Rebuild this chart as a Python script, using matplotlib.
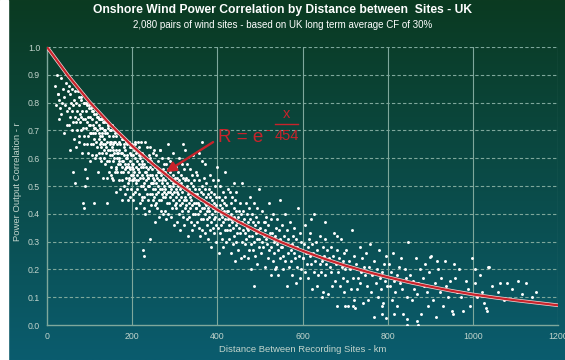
import numpy as np
import matplotlib.pyplot as plt
from matplotlib.lines import Line2D
from matplotlib.patches import Rectangle

plt.rcParams['font.family'] = ['Liberation Sans', 'DejaVu Sans']

# pares de sitios (distancia km, correlacion r)
pts_0_100 = [
    (19, .86), (22, .79), (24, .90), (25, .83),
    (26, .83), (27, .74), (29, .81), (31, .78), (32, .89), (34, .76), (36, .80), (37, .85), (39, .69), (41, .82),
    (43, .79), (44, .87), (46, .77), (48, .72), (49, .84),
    (51, .86), (52, .72), (52, .78), (54, .63), (55, .83), (55, .75), (57, .80), (58, .70), (59, .85), (59, .77),
    (61, .73), (62, .79), (63, .67), (63, .81), (65, .75), (66, .84), (67, .73), (67, .64), (69, .80), (70, .77),
    (71, .70), (72, .84), (72, .74), (74, .82), (75, .66), (62, .55), (66, .51),
    (76, .79), (76, .68), (77, .76), (78, .73), (79, .82), (80, .70), (80, .75), (81, .81), (82, .62), (83, .77),
    (84, .74), (84, .83), (85, .71), (86, .65), (87, .80), (88, .80), (88, .68), (89, .74), (90, .56), (91, .80),
    (92, .71), (92, .77), (93, .65), (94, .79), (95, .73), (96, .68), (96, .75), (97, .62), (98, .79), (99, .72),
    (99, .78), (100, .69), (85, .44), (87, .42), (90, .50), (95, .53),
]
pts_100_200 = [
    (101, .59), (101, .75), (102, .72), (103, .65), (103, .78), (104, .69), (105, .77), (106, .61), (106, .74),
    (107, .65), (108, .72), (108, .69), (109, .77), (110, .67), (111, .71), (111, .76), (112, .60), (113, .71),
    (113, .69), (114, .76), (115, .66), (116, .61), (116, .73), (117, .75), (118, .64), (118, .70), (119, .55),
    (120, .75), (121, .67), (121, .72), (122, .62), (123, .74), (123, .69), (124, .65), (124, .71), (125, .60),
    (125, .74), (125, .68), (110, .44),
    (126, .66), (126, .74), (127, .64), (127, .59), (128, .71), (129, .74), (129, .62), (130, .68), (131, .53),
    (131, .73), (132, .65), (133, .70), (133, .60), (134, .73), (135, .67), (135, .63), (136, .69), (137, .58),
    (137, .70), (138, .64), (139, .73), (139, .62), (140, .53), (141, .69), (141, .66), (142, .59), (143, .72),
    (143, .63), (144, .71), (145, .55), (145, .68), (146, .59), (147, .66), (147, .63), (148, .70), (149, .61),
    (149, .65), (150, .70), (150, .54), (128, .69), (136, .65), (144, .72), (140, .44),
    (151, .66), (151, .57), (152, .64), (152, .61), (153, .72), (154, .59), (154, .63), (155, .68), (156, .52),
    (156, .65), (157, .62), (158, .70), (158, .60), (159, .55), (160, .66), (160, .69), (161, .57), (162, .63),
    (162, .48), (163, .68), (164, .60), (164, .65), (165, .55), (166, .69), (166, .62), (167, .58), (168, .63),
    (168, .52), (169, .66), (170, .60), (170, .69), (171, .58), (172, .49), (172, .65), (173, .62), (174, .55),
    (174, .68), (175, .59), (175, .67), (153, .53), (157, .66), (161, .56), (165, .62), (169, .59), (173, .68),
    (176, .57), (176, .62), (177, .52), (178, .67), (178, .59), (179, .55), (180, .61), (180, .50), (181, .64),
    (182, .58), (182, .67), (183, .56), (184, .47), (184, .63), (185, .60), (186, .53), (186, .66), (187, .57),
    (188, .65), (188, .49), (189, .60), (190, .51), (190, .58), (191, .55), (192, .66), (192, .53), (193, .57),
    (194, .62), (194, .46), (195, .59), (196, .56), (196, .64), (197, .54), (198, .49), (198, .61), (199, .65),
    (200, .52), (200, .58), (177, .45), (181, .65), (185, .57), (189, .61), (193, .52), (197, .64), (199, .57),
    (190, .45), (202, .47),
]
pts_200_300 = [
    (201, .52), (201, .56), (202, .61), (203, .45), (203, .58), (204, .55), (205, .63), (205, .53), (206, .48),
    (207, .60), (207, .66), (208, .51), (209, .57), (209, .42), (210, .62), (211, .54), (211, .59), (212, .49),
    (213, .66), (213, .56), (214, .52), (215, .58), (215, .47), (216, .61), (217, .55), (217, .64), (218, .53),
    (219, .44), (219, .60), (220, .57), (221, .50), (221, .66), (222, .54), (223, .62), (223, .46), (224, .59),
    (225, .50), (225, .57), (202, .54), (206, .65), (210, .52), (214, .56), (218, .61), (222, .45), (224, .58),
    (226, .27), (228, .25), (242, .31),
    (226, .53), (226, .61), (227, .51), (228, .46), (228, .58), (229, .66), (230, .49), (230, .55), (231, .40),
    (232, .60), (232, .52), (233, .57), (234, .47), (234, .64), (235, .54), (236, .50), (236, .56), (237, .45),
    (238, .59), (238, .53), (239, .61), (240, .50), (240, .41), (241, .57), (242, .54), (242, .47), (243, .64),
    (244, .51), (244, .59), (245, .43), (246, .56), (246, .47), (247, .54), (248, .51), (248, .62), (249, .49),
    (250, .53), (250, .58), (228, .42), (233, .55), (238, .53), (243, .60), (247, .51), (249, .45),
    (251, .63), (251, .46), (252, .52), (253, .37), (253, .57), (254, .49), (255, .54), (255, .44), (256, .61),
    (257, .51), (257, .47), (258, .53), (259, .42), (259, .56), (260, .50), (261, .59), (261, .48), (262, .39),
    (263, .55), (263, .52), (264, .45), (265, .63), (265, .49), (266, .55), (267, .41), (267, .54), (268, .45),
    (269, .52), (269, .49), (270, .60), (271, .47), (271, .51), (272, .56), (273, .40), (273, .53), (274, .50),
    (275, .58), (275, .48), (254, .43), (260, .55), (266, .63), (272, .46),
    (276, .46), (276, .52), (277, .41), (278, .55), (278, .49), (279, .58), (280, .47), (280, .38), (281, .54),
    (282, .51), (282, .44), (283, .65), (284, .48), (284, .56), (285, .40), (286, .53), (286, .44), (287, .50),
    (288, .48), (288, .59), (289, .46), (290, .50), (290, .55), (291, .39), (292, .52), (292, .49), (293, .57),
    (294, .47), (294, .42), (295, .54), (296, .62), (296, .45), (297, .51), (298, .36), (298, .56), (299, .48),
    (300, .53), (300, .43), (285, .60), (295, .50),
]
pts_300_500 = [
    (301, .51), (302, .42), (302, .49), (303, .46), (304, .57), (304, .44), (305, .48), (306, .53), (306, .37),
    (307, .50), (308, .47), (308, .55), (309, .45), (310, .40), (310, .52), (311, .60), (312, .43), (312, .49),
    (313, .34), (314, .54), (314, .46), (315, .51), (316, .41), (316, .58), (317, .48), (318, .44), (318, .50),
    (319, .39), (320, .53), (320, .65), (321, .56), (322, .45), (322, .36), (323, .52), (324, .49), (324, .42),
    (325, .63), (325, .46),
    (326, .45), (326, .53), (327, .43), (328, .38), (328, .50), (329, .58), (330, .41), (331, .47), (331, .32),
    (332, .52), (333, .44), (333, .49), (334, .39), (335, .56), (336, .46), (336, .42), (337, .48), (338, .37),
    (338, .51), (339, .45), (340, .54), (341, .43), (341, .34), (342, .50), (343, .47), (343, .40), (344, .61),
    (345, .44), (346, .52), (346, .36), (347, .49), (348, .40), (348, .47), (349, .44), (350, .55), (350, .42),
    (351, .42), (352, .47), (352, .37), (353, .54), (354, .44), (355, .40), (355, .46), (356, .35), (357, .49),
    (358, .43), (358, .52), (359, .41), (360, .32), (361, .48), (361, .45), (362, .38), (363, .59), (364, .42),
    (364, .50), (365, .34), (366, .47), (367, .38), (367, .45), (368, .42), (369, .53), (370, .40), (370, .44),
    (371, .49), (372, .33), (373, .46), (373, .43), (374, .51), (375, .41), (375, .36), (356, .62), (363, .66),
    (372, .58),
    (376, .38), (377, .42), (377, .47), (378, .31), (379, .44), (380, .41), (380, .49), (381, .39), (382, .34),
    (383, .46), (383, .54), (384, .37), (385, .43), (386, .28), (386, .48), (387, .40), (388, .45), (389, .35),
    (389, .52), (390, .42), (391, .38), (392, .44), (392, .33), (393, .47), (394, .41), (395, .50), (395, .39),
    (396, .30), (397, .46), (398, .43), (398, .36), (399, .57),
    (401, .52), (402, .35), (402, .41), (403, .26), (404, .46), (405, .38), (406, .43), (406, .33), (407, .50),
    (408, .40), (409, .36), (410, .42), (410, .31), (411, .45), (412, .39), (413, .48), (414, .37), (414, .28),
    (415, .44), (416, .41), (417, .34), (418, .55), (418, .38), (419, .46), (420, .30), (421, .43), (422, .34),
    (423, .41), (424, .38), (425, .49),
    (426, .41), (427, .31), (428, .39), (428, .36), (429, .48), (430, .34), (431, .38), (432, .44), (433, .26),
    (433, .40), (434, .37), (435, .46), (436, .35), (437, .29), (438, .42), (438, .51), (439, .32), (440, .39),
    (441, .23), (442, .45), (443, .36), (443, .41), (444, .30), (445, .48), (446, .37), (447, .33), (448, .39),
    (449, .27),
    (451, .41), (452, .35), (453, .44), (454, .33), (455, .24), (456, .40), (457, .37), (458, .30), (459, .51),
    (460, .34), (461, .41), (462, .25), (463, .38), (464, .29), (465, .36), (466, .33), (467, .44), (468, .31),
    (469, .35), (470, .40), (471, .24), (472, .37), (473, .34), (474, .42), (474, .32), (475, .27),
    (476, .38), (477, .46), (478, .29), (479, .35), (480, .20), (481, .40), (482, .32), (483, .37), (484, .27),
    (485, .44), (486, .34), (487, .30), (488, .36), (489, .25), (490, .39), (491, .33), (492, .42), (493, .31),
    (494, .22), (495, .37), (496, .34), (497, .28), (498, .49), (499, .31), (486, .14),
]
pts_500_800 = [
    (501, .35), (502, .26), (503, .33), (505, .30), (506, .41), (507, .28), (509, .32), (510, .37), (511, .21),
    (513, .34), (514, .31), (515, .39), (517, .29), (518, .24), (519, .36), (521, .44), (522, .27), (523, .33),
    (525, .18), (526, .38), (527, .28), (529, .33), (530, .23), (531, .40), (533, .30), (534, .26), (535, .32),
    (537, .21), (538, .35), (539, .29), (541, .38), (542, .27), (543, .18), (545, .34), (546, .31), (547, .24),
    (548, .45), (549, .28), (512, .37), (536, .20),
    (551, .28), (552, .36), (554, .25), (555, .20), (557, .32), (558, .40), (560, .23), (561, .29), (563, .14),
    (564, .34), (566, .26), (567, .31), (569, .21), (570, .37), (572, .27), (573, .23), (575, .29), (576, .18),
    (578, .32), (579, .26), (581, .35), (582, .24), (584, .15), (585, .31), (587, .28), (588, .21), (590, .42),
    (591, .25), (593, .33), (594, .17), (596, .30), (597, .20), (599, .27), (600, .24),
    (602, .24), (603, .29), (605, .19), (607, .36), (608, .26), (610, .22), (612, .28), (613, .17), (615, .31),
    (617, .25), (618, .33), (620, .22), (622, .13), (623, .29), (625, .26), (627, .19), (628, .40), (630, .23),
    (632, .30), (633, .14), (635, .27), (637, .18), (638, .25), (640, .22), (642, .32), (643, .19), (645, .23),
    (647, .28), (648, .12), (650, .25), (621, .38), (653, .37), (645, .10),
    (652, .31), (654, .18), (656, .22), (658, .27), (660, .11), (662, .24), (664, .21), (666, .28), (668, .19),
    (670, .14), (672, .25), (674, .33), (676, .16), (678, .22), (680, .07), (682, .27), (684, .19), (686, .24),
    (688, .14), (690, .31), (692, .21), (694, .17), (696, .23), (697, .12), (698, .26), (700, .20), (680, .32),
    (700, .07),
    (702, .27), (704, .16), (707, .07), (709, .23), (711, .20), (713, .13), (716, .34), (718, .17), (720, .25),
    (722, .09), (725, .22), (727, .13), (729, .20), (731, .17), (734, .28), (736, .15), (738, .19), (740, .24),
    (743, .08), (745, .21), (747, .18), (749, .26), (719, .07), (723, .06),
    (752, .14), (754, .09), (757, .21), (759, .29), (762, .12), (764, .18), (767, .03), (769, .23), (772, .15),
    (774, .20), (777, .10), (779, .27), (782, .17), (784, .13), (787, .19), (789, .08), (792, .22), (794, .16),
    (797, .25), (799, .14), (786, .04), (796, .025), (787, .07),
]
pts_800_1200 = [
    (802, .22), (805, .14), (807, .19), (810, .09), (813, .26), (815, .16), (818, .12), (821, .18), (823, .07),
    (826, .21), (829, .15), (831, .24), (834, .13), (837, .04), (840, .20), (842, .17), (845, .10), (848, .30),
    (815, .04), (845, .0), (845, .02),
    (853, .18), (856, .09), (859, .16), (862, .13), (866, .24), (869, .11), (872, .15), (875, .20), (879, .04),
    (882, .17), (885, .14), (888, .22), (892, .12), (895, .07), (898, .19), (869, .015), (871, .0),
    (902, .25), (906, .09), (910, .15), (914, .03), (918, .20), (922, .12), (926, .17), (930, .07), (934, .23),
    (938, .14), (942, .10), (946, .16), (900, .245), (915, .23), (950, .05), (956, .22),
    (953, .04), (958, .17), (963, .12), (968, .20), (973, .10), (978, .05), (983, .16), (988, .13), (993, .07),
    (998, .24), (1005, .20),
    (1004, .15), (1010, .10), (1016, .18), (1021, .12), (1027, .08), (1033, .05), (1038, .21), (1045, .14),
    (1032, .06), (1035, .21),
    (1058, .12), (1064, .15), (1073, .09), (1080, .15), (1092, .13),
    (1106, .16), (1115, .11), (1126, .15), (1138, .10), (1148, .12),
]

# curva R = e^(-x/454) leida cada 50 km
dist_curve = [0, 50, 100, 150, 200, 250, 300, 350, 400, 450, 500, 550, 600,
              650, 700, 750, 800, 850, 900, 950, 1000, 1050, 1100, 1150, 1200]
r_curve = [1.0, .896, .802, .719, .644, .577, .516, .463, .414, .371, .332, .298, .267,
           .239, .214, .192, .172, .154, .138, .123, .110, .099, .089, .080, .071]

x_ticks = [0, 200, 400, 600, 800, 1000, 1200]
y_ticks = [0.0, 0.1, 0.2, 0.3, 0.4, 0.5, 0.6, 0.7, 0.8, 0.9, 1.0]

pts = np.array(pts_0_100 + pts_100_200 + pts_200_300 + pts_300_500 + pts_500_800 + pts_800_1200)

rojo = '#c8232b'
grid_c = '#7fa89c'
txt_c = '#c2d4cc'

fig = plt.figure(figsize=(5.65, 3.6), dpi=100)

# fondo degradado verde -> azul
bg = fig.add_axes([0, 0, 1, 1], zorder=-10)
top = np.array([11, 58, 33]) / 255
bot = np.array([10, 92, 110]) / 255
g = np.linspace(0, 1, 256)[:, None, None]
bg.imshow(top + (bot - top) * g, aspect='auto', extent=[0, 1, 0, 1])
bg.axis('off')
fig.patches.append(Rectangle((0, 0), 8 / 565, 1, transform=fig.transFigure, color='white'))

ax = fig.add_axes([0.0832, 0.0972, 0.9044, 0.7722])
ax.set_facecolor('none')
ax.set_xlim(0, 1200)
ax.set_ylim(0, 1.0)
ax.set_xticks(x_ticks)
ax.set_yticks(y_ticks)
ax.set_yticklabels([f'{v:.1f}' for v in y_ticks])
ax.tick_params(length=0, colors=txt_c, labelsize=6.3)
ax.tick_params(axis='y', pad=5)
ax.tick_params(axis='x', pad=5)
for x in x_ticks[1:]:
    ax.axvline(x, color=grid_c, lw=0.8, zorder=1)
for y in y_ticks[1:]:
    ax.axhline(y, color=grid_c, lw=0.8, ls=(0, (3, 2)), zorder=1)
for s in ['top', 'right']:
    ax.spines[s].set_visible(False)
for s in ['left', 'bottom']:
    ax.spines[s].set_color(grid_c)
    ax.spines[s].set_linewidth(1)

ax.scatter(pts[:, 0], pts[:, 1], s=4.5, c='white', lw=0, zorder=3)
ax.plot(dist_curve, r_curve, color='#f2d8d8', lw=2.6, zorder=4)
ax.plot(dist_curve, r_curve, color=rojo, lw=1.6, zorder=5)

ax.annotate('', xy=(279, .55), xytext=(390, .658),
            arrowprops=dict(arrowstyle='-|>', color=rojo, lw=1.7, mutation_scale=15,
                            shrinkA=0, shrinkB=0), zorder=6)

# formula
fig.text(218 / 565, 1 - 142 / 360, 'R = e', color=rojo, fontsize=13.5, va='baseline', ha='left')
fig.text(268 / 565, 1 - 130 / 360, '-', color=rojo, fontsize=10, va='center', ha='center')
fig.text(286.5 / 565, 1 - 114 / 360, 'x', color=rojo, fontsize=10.5, va='center', ha='center')
fig.lines.append(Line2D([275 / 565, 298 / 565], [1 - 123.5 / 360] * 2, transform=fig.transFigure,
                        color=rojo, lw=1))
fig.text(286.5 / 565, 1 - 136 / 360, '454', color=rojo, fontsize=10.5, va='center', ha='center')

fig.text(0.5, 1 - 10 / 360, 'Onshore Wind Power Correlation by Distance between  Sites - UK',
         color='white', fontsize=8.7, fontweight='bold', ha='center', va='center')
fig.text(0.5, 1 - 25.5 / 360, '2,080 pairs of wind sites - based on UK long term average CF of 30%',
         color='white', fontsize=7.0, ha='center', va='center')
fig.text(303 / 565, 1 - 350 / 360, 'Distance Between Recording Sites - km',
         color=txt_c, fontsize=6.8, ha='center', va='center')
fig.text(18 / 565, 1 - 182 / 360, 'Power Output Correlation - r',
         color=txt_c, fontsize=6.8, ha='center', va='center', rotation=90)

fig.savefig('out.png', dpi=100)
